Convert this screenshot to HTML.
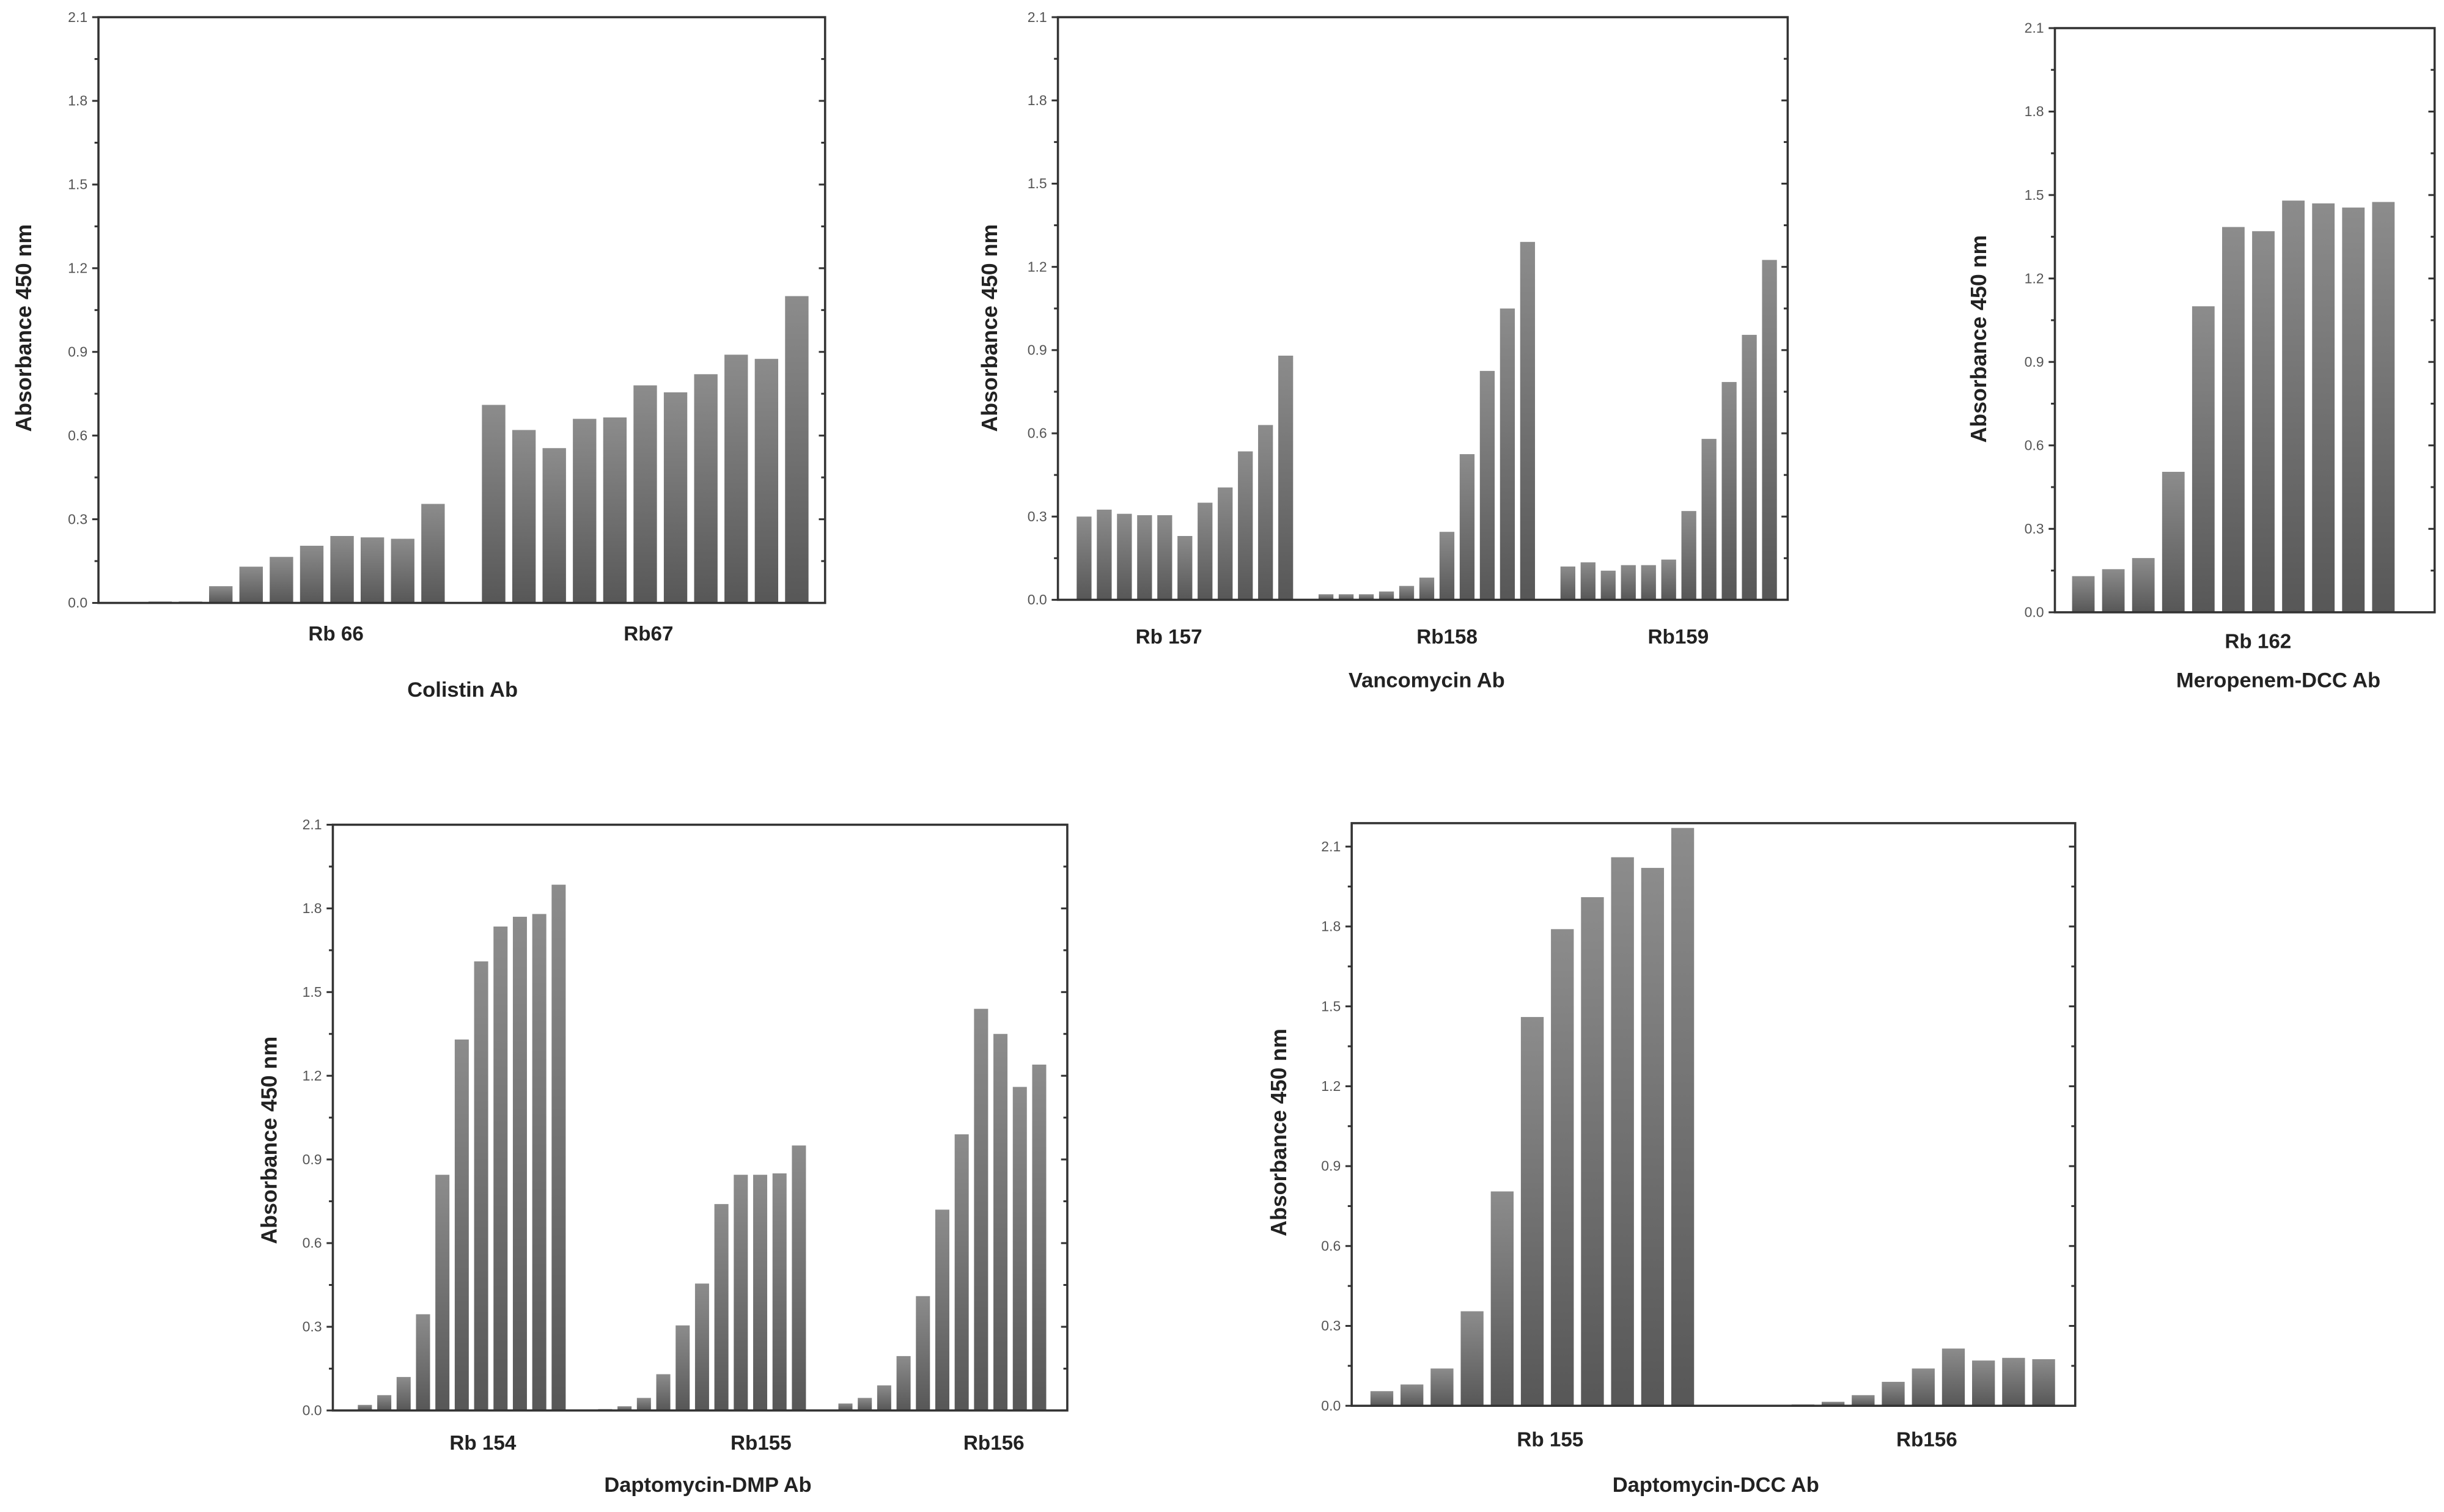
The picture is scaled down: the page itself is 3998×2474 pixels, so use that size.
<!DOCTYPE html>
<html><head><meta charset="utf-8"><style>
html,body{margin:0;padding:0;background:#fff}
svg{display:block}
text{font-family:"Liberation Sans",sans-serif}
</style></head><body>
<svg id="fig" width="3998" height="2474" viewBox="0 0 1564 968" preserveAspectRatio="none" xmlns="http://www.w3.org/2000/svg">
<defs><linearGradient id="bg" x1="0" y1="0" x2="0" y2="1"><stop offset="0" stop-color="#8c8c8c"/><stop offset="1" stop-color="#575757"/></linearGradient></defs>
</svg>
<script>
const yTicks = ["0.0","0.3","0.6","0.9","1.2","1.5","1.8","2.1"];
const colistinGroups = ["Rb 66","Rb67"];
const colistinRb66 = [0.005,0.005,0.06,0.13,0.165,0.205,0.24,0.235,0.23,0.355];
const colistinRb67 = [0.71,0.62,0.555,0.66,0.665,0.78,0.755,0.82,0.89,0.875,1.1];
const vancoGroups = ["Rb 157","Rb158","Rb159"];
const vancoRb157 = [0.30,0.325,0.31,0.305,0.305,0.23,0.35,0.405,0.535,0.63,0.88];
const vancoRb158 = [0.02,0.02,0.02,0.03,0.05,0.08,0.245,0.525,0.825,1.05,1.29];
const vancoRb159 = [0.12,0.135,0.105,0.125,0.125,0.145,0.32,0.58,0.785,0.955,1.225];
const meroGroups = ["Rb 162"];
const meroRb162 = [0.13,0.155,0.195,0.505,1.10,1.385,1.37,1.48,1.47,1.455,1.475];
const dmpGroups = ["Rb 154","Rb155","Rb156"];
const dmpRb154 = [0.02,0.055,0.12,0.345,0.845,1.33,1.61,1.735,1.77,1.78,1.885];
const dmpRb155 = [0.005,0.015,0.045,0.13,0.305,0.455,0.74,0.845,0.845,0.85,0.95];
const dmpRb156 = [0.025,0.045,0.09,0.195,0.41,0.72,0.99,1.44,1.35,1.16,1.24];
const dccGroups = ["Rb 155","Rb156"];
const dccRb155 = [0.055,0.08,0.14,0.355,0.805,1.46,1.79,1.91,2.06,2.02,2.17];
const dccRb156 = [0.003,0.003,0.005,0.015,0.04,0.09,0.14,0.215,0.17,0.18,0.175];

const NS="http://www.w3.org/2000/svg";
const svg=document.getElementById('fig');
function mk(tag,attrs,parent){const e=document.createElementNS(NS,tag);for(const k in attrs)e.setAttribute(k,attrs[k]);(parent||svg).appendChild(e);return e;}

const charts=[
 {id:'colistin',L:63,R:528,T:11,B:386,y21:11,x0:95,pitch:19.4,bw:15,gap:1,series:[colistinRb66,colistinRb67],groups:colistinGroups,gx:[215,415],gy:410,title:'Colistin Ab',tx:296,ty:446,ylx:15,yly:210},
 {id:'vancomycin',L:677,R:1144,T:11,B:384,y21:11,x0:689,pitch:12.9,bw:9.5,gap:1,series:[vancoRb157,vancoRb158,vancoRb159],groups:vancoGroups,gx:[748,926,1074],gy:412,title:'Vancomycin Ab',tx:913,ty:440,ylx:633,yly:210},
 {id:'meropenem',L:1315,R:1558,T:18,B:392,y21:18,x0:1326,pitch:19.2,bw:14.4,gap:1,series:[meroRb162],groups:meroGroups,gx:[1445],gy:415,title:'Meropenem-DCC Ab',tx:1458,ty:440,ylx:1266,yly:217},
 {id:'daptomycin-dmp',L:213,R:683,T:528,B:903,y21:528,x0:229,pitch:12.4,bw:9,gap:1.4,series:[dmpRb154,dmpRb155,dmpRb156],groups:dmpGroups,gx:[309,487,636],gy:928,title:'Daptomycin-DMP Ab',tx:453,ty:955,ylx:172,yly:730},
 {id:'daptomycin-dcc',L:865,R:1328,T:527,B:900,y21:542,x0:877,pitch:19.25,bw:14.6,gap:1,series:[dccRb155,dccRb156],groups:dccGroups,gx:[992,1233],gy:926,title:'Daptomycin-DCC Ab',tx:1098,ty:955,ylx:818,yly:725}
];

charts.forEach(c=>{
 const g=mk('g',{});
 
 
 const yScale=v=>c.B-(v/2.1)*(c.B-c.y21);
 let slot=0;
 c.series.forEach((arr,si)=>{
  arr.forEach((v,i)=>{
   const x=c.x0+(slot+i)*c.pitch;
   const r=mk('rect',{x:x,y:yScale(v),width:c.bw,height:Math.max(0.3,c.B-yScale(v)),fill:'url(#bg)'},g);
   
   
  });
  slot+=arr.length+c.gap;
 });
 const frame=mk('rect',{x:c.L,y:c.T,width:c.R-c.L,height:c.B-c.T,fill:'none',stroke:'#333','stroke-width':1.4},g);
 
 
 for(let k=0;k<=14;k++){
  const v=k*0.15, y=yScale(v);
  if(y<c.T-0.5)continue;
  const major=k%2===0, len=major?4:2.5;
  mk('line',{x1:c.L-len,x2:c.L,y1:y,y2:y,stroke:'#333','stroke-width':1.2},g);
  mk('line',{x1:c.R-len,x2:c.R,y1:y,y2:y,stroke:'#333','stroke-width':1.2},g);
  if(major){
   const t=mk('text',{x:c.L-7,y:y+3,'font-size':9,'text-anchor':'end',fill:'#555'},g);
   t.textContent=yTicks[k/2];
   
   
  }
 }
 c.groups.forEach((name,i)=>{
  const t=mk('text',{x:c.gx[i],y:c.gy,'font-size':13,'font-weight':'bold','text-anchor':'middle',fill:'#222'},g);
  t.textContent=name;
  
  
 });
 const tt=mk('text',{x:c.tx,y:c.ty,'font-size':13.5,'font-weight':'bold','text-anchor':'middle',fill:'#222'},g);
 tt.textContent=c.title;
 
 
 const yl=mk('text',{x:0,y:0,'font-size':14,'font-weight':'bold','text-anchor':'middle',fill:'#222',transform:`translate(${c.ylx+5},${c.yly}) rotate(-90)`},g);
 yl.textContent='Absorbance 450 nm';
 
 
});
</script>
</body></html>
